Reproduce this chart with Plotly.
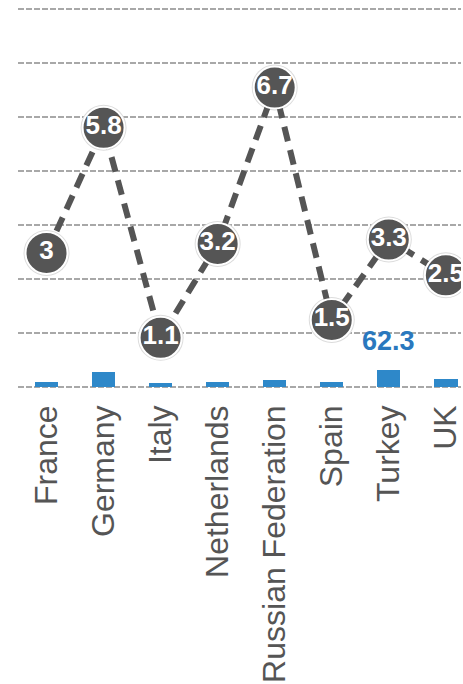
import plotly.graph_objects as go

countries = ["France", "Germany", "Italy", "Netherlands", "Russian Federation", "Spain", "Turkey", "UK"]
bar_values = [20, 55, 13, 20, 27, 20, 62.3, 30]
line_values = [3, 5.8, 1.1, 3.2, 6.7, 1.5, 3.3, 2.5]
line_labels = ["3", "5.8", "1.1", "3.2", "6.7", "1.5", "3.3", "2.5"]
y_ticks = [0, 200, 400, 600, 800, 1000, 1200, 1400]

BAR_COLOR = "#2e88c9"
LABEL_BLUE = "#2a78be"
DARK = "#555555"
FONT = "Liberation Sans, Arial, sans-serif"

fig = go.Figure()

fig.add_trace(go.Bar(
    x=countries, y=bar_values, marker=dict(color=BAR_COLOR, line=dict(width=0)),
    width=0.41, yaxis="y", hoverinfo="skip",
))

# faint outer ring of markers
fig.add_trace(go.Scatter(
    x=countries, y=line_values, mode="markers", yaxis="y2",
    marker=dict(size=46, color="#dcdcdc", line=dict(width=0)),
    hoverinfo="skip",
))

fig.add_trace(go.Scatter(
    x=countries, y=line_values, mode="lines+markers+text", yaxis="y2",
    line=dict(color=DARK, width=6, dash="15px,9px"),
    marker=dict(size=42, color=DARK, line=dict(color="white", width=2)),
    text=line_labels, textposition="middle center",
    textfont=dict(family=FONT, size=26, color="white", weight="bold"),
    hoverinfo="skip",
))

t_idx = bar_values.index(max(bar_values))
fig.add_annotation(
    x=countries[t_idx], y=bar_values[t_idx], xref="x", yref="y",
    text="<b>%s</b>" % bar_values[t_idx], showarrow=False,
    yanchor="bottom", yshift=12,
    font=dict(family=FONT, size=27, color=LABEL_BLUE),
)

fig.update_layout(
    width=463, height=684,
    margin=dict(l=18, r=0, t=0, b=296),
    paper_bgcolor="white", plot_bgcolor="white",
    showlegend=False, bargap=0,
    xaxis=dict(
        type="category", range=[-0.5, 7.266],
        tickangle=-90, tickfont=dict(family=FONT, size=32, color=DARK),
        showgrid=False, zeroline=False, showline=False, ticks="",
        ticklabelstandoff=10,
    ),
    yaxis=dict(
        range=[-4, 1433], tickvals=y_ticks, showticklabels=False,
        showgrid=True, gridcolor="#a8a8a8", gridwidth=2, griddash="6px,2px",
        zeroline=False, showline=False,
    ),
    yaxis2=dict(
        range=[-0.022, 8.658], overlaying="y", side="right", visible=False,
        showgrid=False, zeroline=False,
    ),
)

fig.write_html("out.html")
